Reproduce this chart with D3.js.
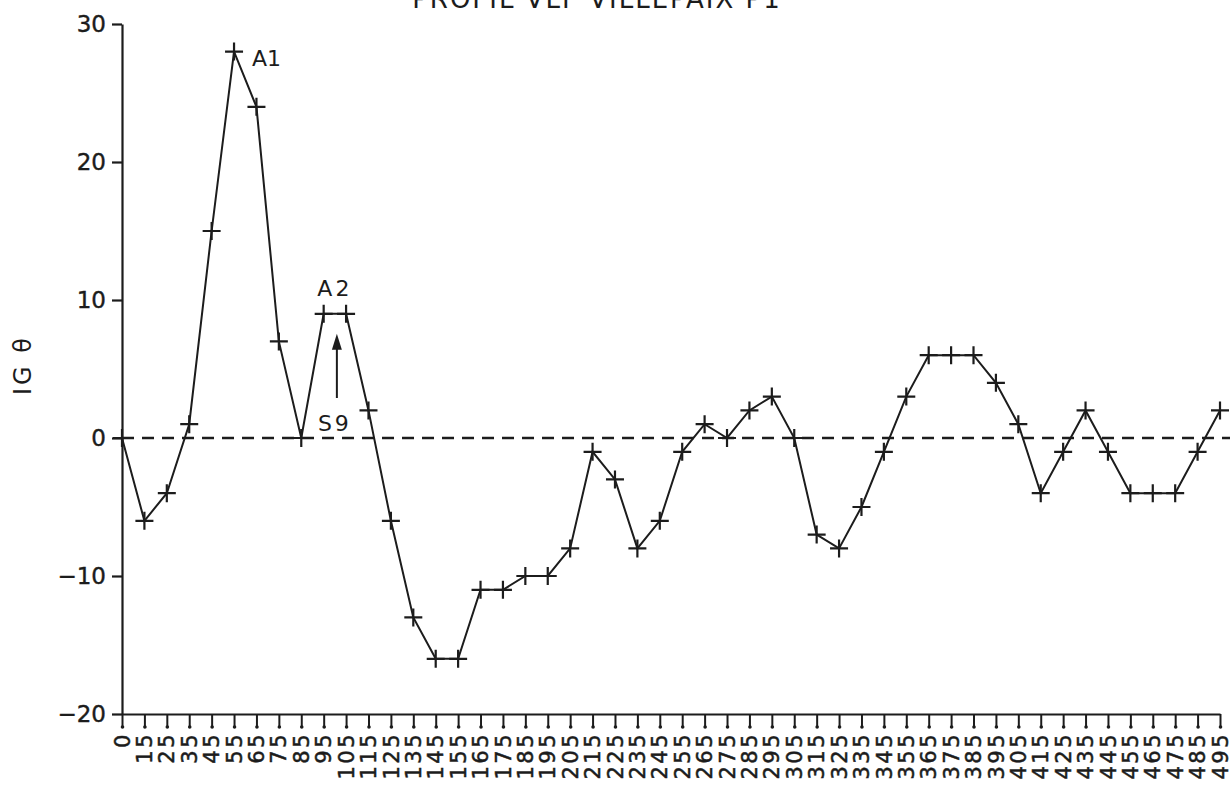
<!DOCTYPE html>
<html>
<head>
<meta charset="utf-8">
<script src="https://cdn.jsdelivr.net/npm/d3@7"></script>
<style>
  body { margin: 0; background: #fff; }
  svg { display: block; }
</style>
</head>
<body>
<div id="chart"></div>
<script>
// stations along the profile (m)
const stations = ["0", "15", "25", "35", "45", "55", "65", "75", "85", "95",
    "105", "115", "125", "135", "145", "155", "165", "175", "185", "195",
    "205", "215", "225", "235", "245", "255", "265", "275", "285", "295",
    "305", "315", "325", "335", "345", "355", "365", "375", "385", "395",
    "405", "415", "425", "435", "445", "455", "465", "475", "485", "495"];

// IG theta values
const igTheta = [0, -6, -4, 1, 15, 28, 24, 7, 0, 9,
    9, 2, -6, -13, -16, -16, -11, -11, -10, -10,
    -8, -1, -3, -8, -6, -1, 1, 0, 2, 3,
    0, -7, -8, -5, -1, 3, 6, 6, 6, 4,
    1, -4, -1, 2, -1, -4, -4, -4, -1, 2];

const yTicks = [30, 20, 10, 0, -10, -20];

const width = 1230, height = 796;
const ink = "#1c1c1c";
const font = "DejaVu Sans";

let svg = d3.select("#chart")
    .append("svg")
    .attr("width", width)
    .attr("height", height);

let x = d3.scalePoint()
    .domain(stations)
    .range([122, 1220]);

let y = d3.scaleLinear()
    .domain([-20, 30])
    .range([714, 24]);

// title (cut off at the top like the scan)
svg.append("text")
    .attr("x", 597)
    .attr("y", 8)
    .attr("text-anchor", "middle")
    .attr("font-family", font)
    .attr("font-size", 26)
    .attr("letter-spacing", 2)
    .attr("fill", ink)
    .text("PROFIL VLF VILLEPAIX P1");

// y axis
let yAxis = svg.append("g")
    .attr("transform", "translate(" + x.range()[0] + ",0)")
    .call(d3.axisLeft(y).tickValues(yTicks).tickSize(10).tickSizeOuter(0).tickPadding(6));
yAxis.selectAll("path, line").attr("stroke", ink).attr("stroke-width", 2.2);
yAxis.selectAll("text")
    .attr("font-family", font)
    .attr("font-size", 23)
    .attr("fill", ink)
    .attr("stroke", ink)
    .attr("stroke-width", 0.4);

// x axis
let xAxis = svg.append("g")
    .attr("transform", "translate(0," + y(-20) + ")")
    .call(d3.axisBottom(x).tickSize(13).tickSizeOuter(0).tickPadding(6));
xAxis.select(".domain").attr("stroke", ink).attr("stroke-width", 2.2);
xAxis.selectAll("line").attr("stroke", ink).attr("stroke-width", 2);
xAxis.selectAll(".tick").append("circle")
    .attr("cy", 13)
    .attr("r", 1.8)
    .attr("fill", ink);
xAxis.selectAll("text")
    .attr("font-family", font)
    .attr("font-size", 21)
    .attr("letter-spacing", 2.5)
    .attr("fill", ink)
    .attr("stroke", ink)
    .attr("stroke-width", 0.5)
    .attr("text-anchor", "end")
    .attr("dy", "0.34em")
    .attr("transform", "translate(0,18) rotate(-90)")
    .attr("x", 0)
    .attr("y", 0);

// y label
svg.append("text")
    .attr("transform", "translate(31,365) rotate(-90)")
    .attr("text-anchor", "middle")
    .attr("font-family", font)
    .attr("font-size", 24)
    .attr("letter-spacing", 3)
    .attr("fill", ink)
    .text("IG θ");

// zero reference line
svg.append("line")
    .attr("x1", x.range()[0])
    .attr("x2", width)
    .attr("y1", y(0))
    .attr("y2", y(0))
    .attr("stroke", ink)
    .attr("stroke-width", 2.5)
    .attr("stroke-dasharray", "12,8");

// profile line
let line = d3.line()
    .x((d, i) => x(stations[i]))
    .y(d => y(d));

svg.append("path")
    .datum(igTheta)
    .attr("d", line)
    .attr("fill", "none")
    .attr("stroke", ink)
    .attr("stroke-width", 2);

// plus markers
svg.append("g")
    .selectAll("path")
    .data(igTheta)
    .enter()
    .append("path")
    .attr("transform", (d, i) => "translate(" + x(stations[i]) + "," + y(d) + ")")
    .attr("d", "M-9,0H9M0,-9V9")
    .attr("stroke", ink)
    .attr("stroke-width", 2.2);

// annotations
svg.append("text")
    .attr("x", x("55") + 18)
    .attr("y", y(28) + 14)
    .attr("font-family", font)
    .attr("font-size", 22)
    .attr("fill", ink)
    .text("A1");

svg.append("text")
    .attr("x", (x("95") + x("105")) / 2)
    .attr("y", y(9) - 18)
    .attr("text-anchor", "middle")
    .attr("font-family", font)
    .attr("font-size", 22)
    .attr("letter-spacing", 3)
    .attr("fill", ink)
    .text("A2");

svg.append("text")
    .attr("x", (x("95") + x("105")) / 2)
    .attr("y", y(0) - 7)
    .attr("text-anchor", "middle")
    .attr("font-family", font)
    .attr("font-size", 22)
    .attr("letter-spacing", 3)
    .attr("fill", ink)
    .text("S9");

// arrow pointing to A2
let ax = (x("95") + x("105")) / 2 + 2;
svg.append("line")
    .attr("x1", ax)
    .attr("x2", ax)
    .attr("y1", y(0) - 40)
    .attr("y2", y(9) + 30)
    .attr("stroke", ink)
    .attr("stroke-width", 2);
svg.append("path")
    .attr("d", "M" + (ax - 5) + "," + (y(9) + 36) + "L" + ax + "," + (y(9) + 20) + "L" + (ax + 5) + "," + (y(9) + 36) + "Z")
    .attr("fill", ink);
</script>
</body>
</html>
